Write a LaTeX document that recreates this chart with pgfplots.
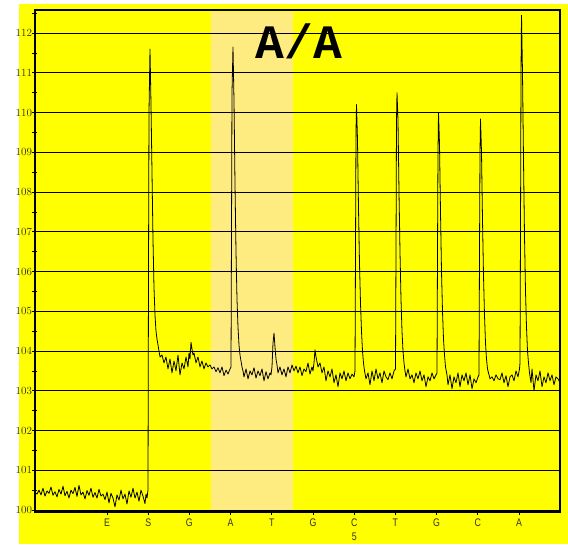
\documentclass[border=0pt]{standalone}
\usepackage{fontspec}
\setmainfont{Liberation Sans}
\newfontfamily\ticksfont[FakeStretch=0.8]{Liberation Sans}
\newfontfamily\titlefont{Liberation Mono}
\usepackage{pgfplots}
\pgfplotsset{compat=1.18}
\usepackage{pgfplotstable}

\definecolor{bgyellow}{RGB}{255,255,0}
\definecolor{dispzone}{RGB}{255,236,128}
\definecolor{ticktext}{RGB}{50,50,30}

% pyrogram trace: time (dispensation axis) vs. signal
\pgfplotstableread{
x y
35 100.45
37 100.40
39 100.50
41 100.38
43 100.55
45 100.35
47 100.48
49 100.42
51 100.58
53 100.37
55 100.46
57 100.33
59 100.52
61 100.40
63 100.60
65 100.36
67 100.47
69 100.30
71 100.50
73 100.41
75 100.57
77 100.34
79 100.62
81 100.38
83 100.45
85 100.28
87 100.49
89 100.37
91 100.55
93 100.32
95 100.44
97 100.30
99 100.52
101 100.35
103 100.40
105 100.26
107 100.45
109 100.18
111 100.42
113 100.30
115 100.08
117 100.38
119 100.25
121 100.50
123 100.28
125 100.40
127 100.15
129 100.48
131 100.32
133 100.55
135 100.30
137 100.45
139 100.22
141 100.50
143 100.35
145 100.16
146 100.40
147 100.30
148 100.5
148.5 106
149 110
150 111.6
151 110.2
152 108.5
153 106.8
154 105.6
155 104.9
156 104.5
157 104.3
158 104.15
159 104.0
160 103.85
162 103.9
164 103.7
166 103.85
168 103.55
170 103.8
172 103.45
174 103.75
176 103.5
178 103.9
180 103.4
182 103.7
184 103.55
186 103.85
188 103.6
189 103.95
190 103.8
191 104.22
192 104.05
193 103.9
194 103.95
196 103.7
198 103.85
200 103.6
202 103.75
204 103.55
206 103.7
208 103.6
210 103.65
212 103.55
214 103.6
216 103.48
218 103.58
220 103.45
222 103.6
224 103.38
226 103.52
228 103.42
230 103.55
231 103.6
231.5 107
232 110.5
233 111.65
234 110.3
235 108.2
236 106.5
237 105.3
238 104.6
239 104.15
240 103.9
241 103.75
242 103.6
243 103.5
244 103.35
246 103.55
248 103.3
250 103.5
252 103.4
254 103.58
256 103.32
258 103.5
260 103.38
262 103.55
264 103.25
266 103.48
268 103.3
270 103.45
271 103.4
272 103.6
273 104.2
274 104.45
275 104.1
276 103.8
277 103.65
278 103.45
280 103.6
282 103.4
284 103.55
286 103.35
288 103.6
290 103.45
292 103.65
294 103.5
296 103.62
298 103.45
300 103.6
302 103.38
304 103.55
306 103.48
308 103.7
310 103.42
312 103.6
313 103.5
314 103.7
315 104.03
316 103.85
318 103.6
320 103.7
322 103.45
324 103.6
326 103.25
328 103.5
330 103.35
332 103.55
334 103.2
336 103.4
338 103.1
340 103.45
342 103.3
344 103.5
346 103.25
348 103.45
350 103.3
352 103.42
354 103.35
355 103.5
355.5 106.5
356 109.5
356.5 110.2
357.5 109.3
358.5 107.6
359.5 106.2
360.5 105.2
361.5 104.5
362.5 104.0
363.5 103.7
364.5 103.5
366 103.3
368 103.45
370 103.15
372 103.5
374 103.25
376 103.55
378 103.3
380 103.45
382 103.2
384 103.5
386 103.35
388 103.28
390 103.45
392 103.3
394 103.5
395.5 103.55
396 106.5
396.5 109.8
397 110.5
398 109.8
399 108.0
400 106.5
401 105.3
402 104.5
403 104.0
404 103.7
405 103.5
406 103.35
408 103.55
410 103.3
412 103.4
414 103.2
416 103.45
418 103.3
420 103.5
422 103.25
424 103.4
426 103.1
428 103.35
430 103.25
432 103.45
434 103.3
436 103.4
437 103.45
437.5 106.5
438 109.0
438.5 110.0
439.5 109.2
440.5 107.5
441.5 106.0
442.5 105.0
443.5 104.3
444.5 103.9
445.5 103.6
447 103.4
448 103.15
450 103.4
452 103.05
454 103.35
456 103.2
458 103.45
460 103.1
462 103.4
464 103.25
466 103.45
468 103.15
470 103.4
472 103.05
474 103.3
476 103.2
478 103.35
479 103.4
479.5 106.5
480 109.0
480.5 109.84
481.5 109.0
482.5 107.3
483.5 105.9
484.5 104.9
485.5 104.2
486.5 103.8
487.5 103.55
489 103.4
490 103.3
492 103.35
494 103.25
496 103.4
498 103.3
500 103.28
502 103.45
504 103.2
506 103.38
508 103.1
510 103.35
512 103.4
514 103.25
516 103.5
518 103.35
519.5 103.55
520 103.7
520.5 107
521 111
521.5 112.45
522.5 111.0
523.5 108.8
524.5 106.9
525.5 105.5
526.5 104.6
527.5 104.0
528.5 103.7
529.5 103.45
531 103.2
532 103.55
534 103.0
536 103.4
538 103.25
540 103.5
542 103.1
544 103.35
546 103.2
548 103.45
550 103.25
552 103.4
554 103.15
556 103.35
558 103.3
560 103.2
}\trace

\begin{document}
\begin{tikzpicture}
% page and panel background, dispensation zone (A, T) shading
\fill[white] (-35bp,-32bp) rectangle (533bp,512bp);
\fill[bgyellow] (-16bp,-32bp) rectangle (533bp,508bp);
\fill[dispzone] (175.5bp,0bp) rectangle (258bp,500bp);
\begin{axis}[
  scale only axis,
  width=525bp, height=502bp,
  xmin=35, xmax=560,
  ymin=99.95, ymax=112.58,
  axis line style={black, line width=1.1pt},
  ytick={100,101,...,112},
  minor ytick={100.5,101.5,...,112.5},
  ymajorgrids,
  major grid style={black, line width=1pt},
  xtick={107,148.2,189.4,230.6,271.8,313,354.2,395.4,436.6,477.8,519},
  xticklabels={E,S,G,A,T,G,{C\\5},T,G,C,A},
  tick align=center,
  major tick length=5bp,
  minor tick length=5bp,
  tick style={black, line width=0.8pt},
  xtick pos=bottom, ytick pos=left,
  y tick label style={font=\ticksfont\fontsize{11bp}{12bp}\selectfont, text=ticktext, xshift=3bp},
  x tick label style={font=\ticksfont\fontsize{11bp}{14bp}\selectfont, text=ticktext, align=center, yshift=-1bp},
  clip=false,
]
\addplot[black, line width=0.8pt, line join=round, mark=none] table {\trace};
\node[font=\titlefont\bfseries\fontsize{48bp}{48bp}\selectfont, anchor=center] at (axis cs:299,111.8) {A/A};
\end{axis}
\end{tikzpicture}
\end{document}
